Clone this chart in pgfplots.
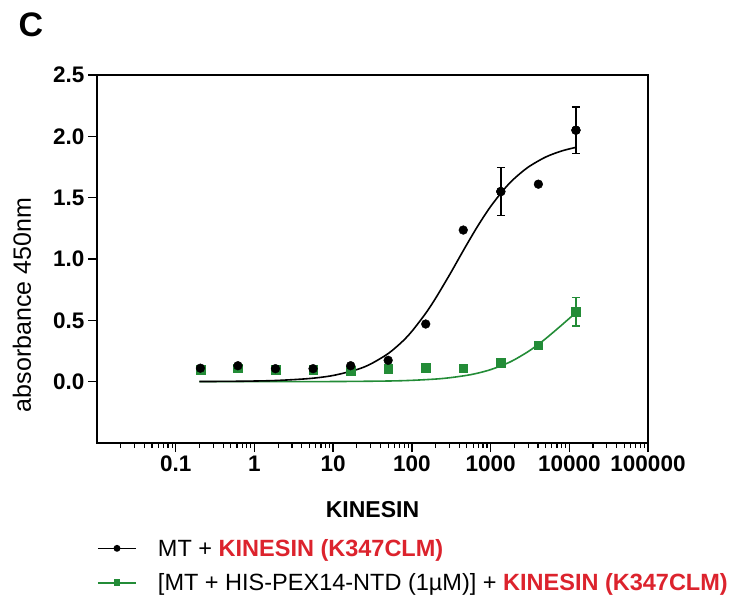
\documentclass[border=0pt]{standalone}
\usepackage{pgfplots}
\pgfplotsset{compat=1.18}
\usepackage{fontspec}
\setmainfont{Liberation Sans}
\definecolor{pgreen}{RGB}{35,140,55}
\definecolor{kred}{RGB}{220,35,45}

\begin{document}
\begin{tikzpicture}
\useasboundingbox (-97pt,-160pt) rectangle (634pt,443pt);
\begin{axis}[
  xmode=log,
  scale only axis,
  width=551pt, height=368pt,
  xmin=0.01, xmax=100000,
  ymin=-0.5, ymax=2.5,
  axis line style={line width=1.6pt},
  xtick={0.1,1,10,100,1000,10000,100000},
  xticklabels={0.1,1,10,100,1000,10000,100000},
  minor xtick={0.02,0.03,0.04,0.05,0.06,0.07,0.08,0.09,
    0.2,0.3,0.4,0.5,0.6,0.7,0.8,0.9,
    2,3,4,5,6,7,8,9,
    20,30,40,50,60,70,80,90,
    200,300,400,500,600,700,800,900,
    2000,3000,4000,5000,6000,7000,8000,9000,
    20000,30000,40000,50000,60000,70000,80000,90000},
  ytick={0,0.5,1,1.5,2,2.5},
  yticklabels={0.0,0.5,1.0,1.5,2.0,2.5},
  tick pos=left,
  tick align=outside,
  major tick length=9pt,
  minor tick length=5pt,
  major tick style={line width=1.4pt, black},
  minor tick style={line width=1.2pt, black},
  tick label style={font=\fontsize{22.5}{24}\selectfont\bfseries},
  /pgf/number format/assume math mode=true,
  xlabel={KINESIN},
  ylabel={absorbance 450nm},
  xlabel style={font=\fontsize{23}{26}\selectfont\bfseries,
    at={(axis description cs:0.5,-0.182)}, anchor=center},
  ylabel style={font=\fontsize{25}{28}\selectfont,
    at={(axis description cs:-0.136,0.375)}, anchor=center},
  legend style={at={(axis description cs:0,-0.255)}, anchor=north west,
    draw=none, fill=none, font=\fontsize{23.5}{27}\selectfont,
    row sep=12pt, inner sep=0pt},
  legend cell align=left,
  legend image code/.code={\draw[mark repeat=2,mark phase=2]
    plot coordinates {(0pt,0pt) (19pt,0pt) (38pt,0pt)};
    \path[draw=none] (58pt,0pt);},
]
% fitted curves
\addplot[pgreen, line width=1.6pt, smooth, forget plot] coordinates {
  (0.2,0) (1,0.0001) (10,0.0011) (50,0.0054) (100,0.0108) (200,0.0213)
  (300,0.0317) (500,0.0516) (700,0.0708) (1000,0.098) (1500,0.14)
  (2000,0.178) (3000,0.245) (4000,0.302) (5000,0.35) (7000,0.429)
  (9000,0.49) (12150,0.563)};
\addplot[black, line width=1.6pt, smooth, forget plot] coordinates {
  (0.2,0.001) (0.5,0.0026) (1,0.0052) (2,0.0103) (5,0.0256) (10,0.0505)
  (20,0.0985) (30,0.1441) (50,0.229) (75,0.3247) (100,0.4104)
  (150,0.5576) (200,0.6793) (300,0.869) (400,1.0103) (500,1.1193)
  (700,1.2768) (1000,1.4275) (1500,1.5718) (2000,1.6555) (3000,1.7485)
  (5000,1.8309) (8000,1.8807) (12150,1.9102)};
% measured points
\addplot[pgreen, only marks, mark=square*, mark size=4.3pt, forget plot] coordinates {
  (0.206,0.10) (0.617,0.11) (1.85,0.10) (5.56,0.10) (16.7,0.09) (50,0.106)
  (150,0.114) (450,0.11) (1350,0.155) (4050,0.297) (12150,0.57)};
\addplot[pgreen, only marks, mark=square*, mark size=4.3pt, forget plot,
  error bars/.cd, y dir=both, y explicit,
  error bar style={line width=1.4pt},
  error mark options={rotate=90, mark size=4pt, line width=1.4pt}]
  coordinates {(12150,0.57) +- (0,0.115)};
\addplot[black, only marks, mark=*, mark size=4.4pt, forget plot] coordinates {
  (0.206,0.11) (0.617,0.13) (1.85,0.106) (5.56,0.106) (16.7,0.13) (50,0.174)
  (150,0.47) (450,1.236) (1350,1.55) (4050,1.61) (12150,2.05)};
\addplot[black, only marks, mark=*, mark size=4.4pt, forget plot,
  error bars/.cd, y dir=both, y explicit,
  error bar style={line width=1.4pt},
  error mark options={rotate=90, mark size=4pt, line width=1.4pt}]
  coordinates {(1350,1.55) +- (0,0.195) (12150,2.05) +- (0,0.19)};
% legend
\addlegendimage{black, line width=1.6pt, mark=*, mark size=2.6pt}
\addlegendentry{MT + \textcolor{kred}{\bfseries KINESIN (K347CLM)}}
\addlegendimage{pgreen, line width=1.6pt, mark=square*, mark size=2.6pt}
\addlegendentry{[MT + HIS-PEX14-NTD (1µM)] + \textcolor{kred}{\bfseries KINESIN (K347CLM)}}
\end{axis}
\node[font=\fontsize{34}{36}\selectfont\bfseries] at (-66pt,418pt) {C};
\end{tikzpicture}
\end{document}
